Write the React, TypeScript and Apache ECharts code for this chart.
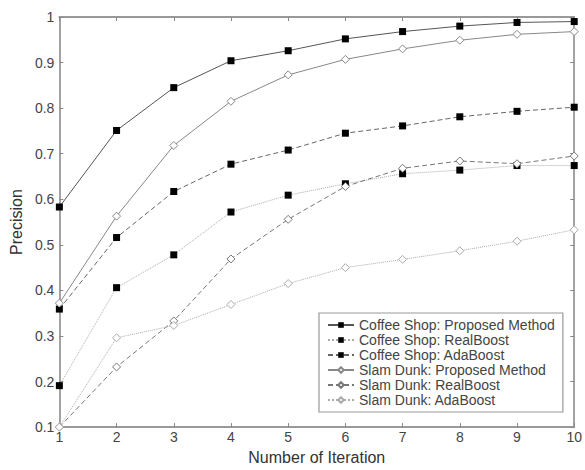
import React, { useEffect, useRef } from "react";
import * as echarts from "echarts";

const iterations = [1, 2, 3, 4, 5, 6, 7, 8, 9, 10];
const yTicks = [0.1, 1];
const coffeeProposed = [0.583, 0.751, 0.845, 0.904, 0.926, 0.952, 0.968, 0.98, 0.988, 0.99];
const coffeeReal = [0.191, 0.406, 0.478, 0.572, 0.609, 0.634, 0.656, 0.664, 0.674, 0.674];
const coffeeAda = [0.359, 0.516, 0.617, 0.677, 0.708, 0.745, 0.761, 0.781, 0.793, 0.802];
const slamProposed = [0.372, 0.563, 0.718, 0.815, 0.873, 0.907, 0.93, 0.949, 0.962, 0.968];
const slamReal = [0.1, 0.232, 0.333, 0.469, 0.556, 0.628, 0.668, 0.684, 0.678, 0.695];
const slamAda = [0.1, 0.296, 0.323, 0.369, 0.415, 0.45, 0.468, 0.487, 0.508, 0.533];

const names = [
  "Coffee Shop: Proposed Method",
  "Coffee Shop: RealBoost",
  "Coffee Shop: AdaBoost",
  "Slam Dunk: Proposed Method",
  "Slam Dunk: RealBoost",
  "Slam Dunk: AdaBoost",
];

const FONT = "Liberation Sans, Arial, sans-serif";

export default function App() {
  const ref = useRef<HTMLDivElement>(null);
  useEffect(() => {
    document.body.style.margin = "0";
    const chart = echarts.init(ref.current!, null, { renderer: "svg" });
    const pts = (arr: number[]) => iterations.map((x, i) => [x, arr[i]]);
    const square = (name: string, arr: number[], color: string, type: any) => ({
      name,
      type: "line",
      data: pts(arr),
      symbol: "rect",
      symbolSize: 7,
      itemStyle: { color: "#000", borderColor: "#000", borderWidth: 0 },
      lineStyle: { color, width: 1, type },
    });
    const diamond = (name: string, arr: number[], color: string, type: any) => ({
      name,
      type: "line",
      data: pts(arr),
      symbol: "diamond",
      symbolSize: 8,
      itemStyle: { color: "#fff", borderColor: color, borderWidth: 1 },
      lineStyle: { color, width: 1, type },
    });
    const axisLine = { show: true, lineStyle: { color: "#999", width: 1.8 } };
    const axisTick = { show: true, inside: true, length: 4, lineStyle: { color: "#888" } };
    chart.setOption({
      animation: false,
      textStyle: { fontFamily: FONT },
      grid: { left: 58, right: 5, top: 17, bottom: 38, show: false },
      xAxis: [
        {
          type: "value",
          min: iterations[0],
          max: iterations[iterations.length - 1],
          interval: 1,
          position: "bottom",
          name: "Number of Iteration",
          nameLocation: "middle",
          nameGap: 19,
          nameTextStyle: { fontSize: 16, color: "#333", fontFamily: FONT },
          axisLine,
          axisTick,
          splitLine: { show: false },
          axisLabel: { fontSize: 14, color: "#444", margin: 3, fontFamily: FONT },
        },
        {
          type: "value",
          min: iterations[0],
          max: iterations[iterations.length - 1],
          interval: 1,
          position: "top",
          axisLine,
          axisTick,
          splitLine: { show: false },
          axisLabel: { show: false },
        },
      ],
      yAxis: [
        {
          type: "value",
          min: yTicks[0],
          max: yTicks[1],
          interval: 0.1,
          position: "left",
          name: "Precision",
          nameLocation: "middle",
          nameGap: 30,
          nameTextStyle: { fontSize: 16, color: "#333", fontFamily: FONT },
          axisLine,
          axisTick,
          splitLine: { show: false },
          axisLabel: {
            fontSize: 14,
            color: "#444",
            margin: 5,
            fontFamily: FONT,
            formatter: (v: number) => String(Math.round(v * 10) / 10),
          },
        },
        {
          type: "value",
          min: yTicks[0],
          max: yTicks[1],
          interval: 0.1,
          position: "right",
          axisLine,
          axisTick,
          splitLine: { show: false },
          axisLabel: { show: false },
        },
      ],
      legend: {
        orient: "vertical",
        left: 319,
        top: 313,
        padding: [5, 8, 5, 8],
        itemGap: 1,
        itemWidth: 26,
        itemHeight: 7,
        backgroundColor: "#fff",
        borderColor: "#999",
        borderWidth: 1.2,
        borderRadius: 0,
        textStyle: { fontSize: 14, color: "#444", fontFamily: FONT },
        data: names,
      },
      series: [
        square(names[0], coffeeProposed, "#555", "solid"),
        square(names[1], coffeeReal, "#aaa", "dotted"),
        square(names[2], coffeeAda, "#666", [5, 3]),
        diamond(names[3], slamProposed, "#888", "solid"),
        diamond(names[4], slamReal, "#777", [5, 3]),
        diamond(names[5], slamAda, "#aaa", "dotted"),
      ],
    });
    return () => chart.dispose();
  }, []);
  return <div ref={ref} style={{ width: 585, height: 470 }} />;
}
